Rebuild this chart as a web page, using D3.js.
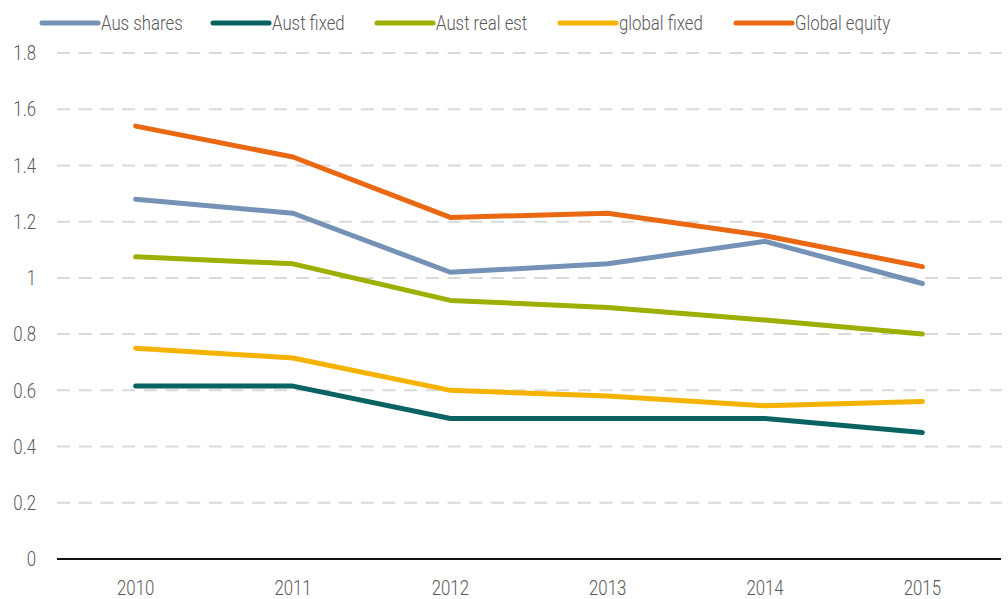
<!DOCTYPE html>
<html><head><meta charset="utf-8">
<script src="https://cdn.jsdelivr.net/npm/d3@7"></script>
<style>
html,body{margin:0;padding:0;background:#fff;}
text{font-family:Roboto,"Liberation Sans",sans-serif;font-weight:300;fill:#595959;}
</style></head>
<body>
<svg id="chart" width="1008" height="599"></svg>
<script>
const categories = ["2010","2011","2012","2013","2014","2015"];
const seriesNames = ["Aus shares","Aust fixed","Aust real est","global fixed","Global equity"];
const ausShares   = [1.28, 1.23, 1.02, 1.05, 1.13, 0.98];
const austFixed   = [0.615, 0.615, 0.5, 0.5, 0.5, 0.45];
const austRealEst = [1.075, 1.05, 0.92, 0.895, 0.85, 0.80];
const globalFixed = [0.75, 0.715, 0.60, 0.58, 0.545, 0.56];
const globalEquity= [1.54, 1.43, 1.215, 1.23, 1.15, 1.04];
const yTicks = [0,0.2,0.4,0.6,0.8,1,1.2,1.4,1.6,1.8];
const colors = ["#7491b6","#0a6363","#9daf00","#f5b300","#eb6812"];

const series = [ausShares, austFixed, austRealEst, globalFixed, globalEquity];

(function(){
const svg = d3.select("#chart");
const mLeft = 57, mRight = 1001, mTop = 53, mBottom = 559;
const FS = "21px", SX = 0.8;

const x = d3.scaleBand().domain(categories).range([mLeft, mRight]);
const y = d3.scaleLinear().domain([0, 1.8]).range([mBottom, mTop]);

// grid
svg.append("g").selectAll("line").data(yTicks.filter(d => d > 0)).join("line")
  .attr("x1", mLeft).attr("x2", mRight + 1)
  .attr("y1", d => y(d)).attr("y2", d => y(d))
  .attr("stroke", "#d9d9d9").attr("stroke-width", 2)
  .attr("stroke-dasharray", "13,8.7");

// y labels
const yAxis = d3.axisLeft(y).tickValues(yTicks).tickSize(0).tickPadding(0)
  .tickFormat(d => d3.format("~g")(d));
const ga = svg.append("g").attr("transform", `translate(36,0)`).call(yAxis);
ga.select(".domain").remove();
ga.selectAll("text").style("font-size", FS).attr("fill", "#595959")
  .attr("font-family", null).attr("transform", `scale(${SX},1)`);

// x axis
const xAxis = d3.axisBottom(x).tickSize(0).tickPadding(0);
const gx = svg.append("g").attr("transform", `translate(0,${mBottom})`).call(xAxis);
gx.select(".domain").remove();
gx.selectAll("text").style("font-size", FS).attr("fill", "#595959")
  .attr("font-family", null).attr("y", 21).attr("transform", `scale(${SX},1)`);

svg.append("line").attr("x1", mLeft).attr("x2", mRight)
  .attr("y1", mBottom).attr("y2", mBottom)
  .attr("stroke", "#111").attr("stroke-width", 2);

// lines
const line = d3.line().x((d, i) => x(categories[i]) + x.bandwidth() / 2).y(d => y(d));
series.forEach((s, k) => {
  svg.append("path").datum(s).attr("d", line)
    .attr("fill", "none").attr("stroke", colors[k]).attr("stroke-width", 5)
    .attr("stroke-linecap", "round").attr("stroke-linejoin", "round");
});

// legend
const legendX = [42, 213, 377, 560, 736];
const lg = svg.append("g");
seriesNames.forEach((n, k) => {
  lg.append("line").attr("x1", legendX[k]).attr("x2", legendX[k] + 56)
    .attr("y1", 23).attr("y2", 23).attr("stroke", colors[k])
    .attr("stroke-width", 5).attr("stroke-linecap", "round");
  lg.append("text").attr("transform", `translate(${legendX[k] + 59},30) scale(${SX},1)`)
    .style("font-size", FS).text(n);
});
})();
</script>
</body></html>
